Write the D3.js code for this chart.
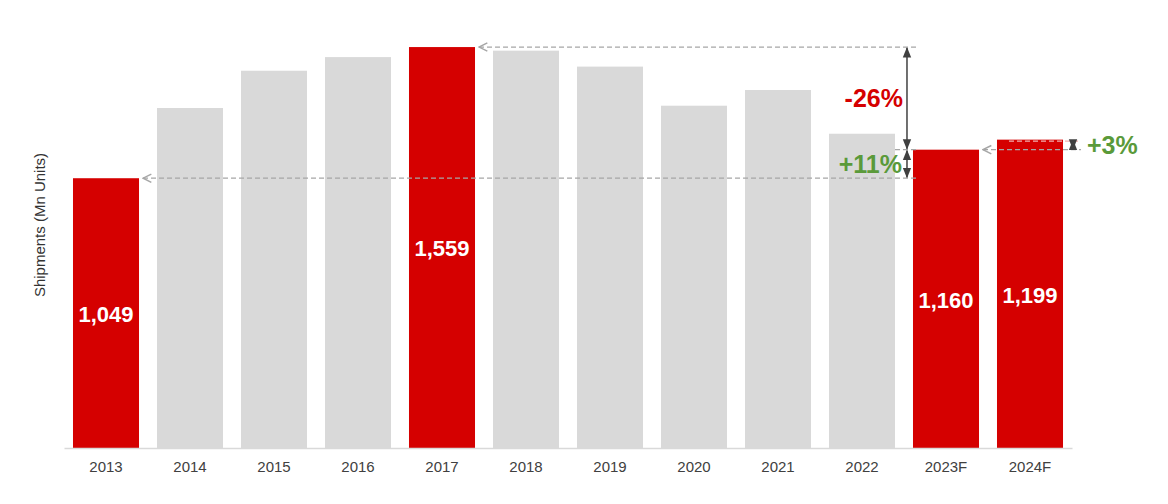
<!DOCTYPE html>
<html>
<head>
<meta charset="utf-8">
<script src="https://cdn.jsdelivr.net/npm/d3@7"></script>
<style>
  body { margin: 0; background: #fff; }
  svg { font-family: "Liberation Sans", Arial, sans-serif; }
</style>
</head>
<body>
<div id="chart"></div>
<script>
"use strict";

// data
var years = ["2013", "2014", "2015", "2016", "2017", "2018", "2019", "2020", "2021", "2022", "2023F", "2024F"];
var shipments = [1049, 1322, 1467, 1520, 1559, 1545, 1483, 1331, 1392, 1222, 1160, 1199];
var highlighted = ["2013", "2017", "2023F", "2024F"];
var changeLabels = ["-26%", "+11%", "+3%"];

var width = 1168, height = 504;
var baseY = 448;

var svg = d3.select("#chart").append("svg")
    .attr("width", width)
    .attr("height", height);

var x = d3.scaleBand()
    .domain(years)
    .range([64, 1072])
    .paddingInner(0.214)
    .paddingOuter(0.107);

var y = d3.scaleLinear()
    .domain([0, 1742])
    .range([baseY, 0]);

var red = "#d50000", grey = "#d9d9d9", green = "#5a9a3a";

// arrow markers
var defs = svg.append("defs");
defs.append("marker")
    .attr("id", "chev")
    .attr("viewBox", "0 0 10 10")
    .attr("refX", 1).attr("refY", 5)
    .attr("markerWidth", 8).attr("markerHeight", 8)
    .attr("orient", "auto")
    .append("path")
    .attr("d", "M9,1 L1,5 L9,9")
    .attr("fill", "none")
    .attr("stroke", "#a6a6a6")
    .attr("stroke-width", 1.4);
defs.append("marker")
    .attr("id", "tri")
    .attr("viewBox", "0 0 10 10")
    .attr("refX", 9).attr("refY", 5)
    .attr("markerWidth", 7).attr("markerHeight", 7)
    .attr("orient", "auto-start-reverse")
    .append("path")
    .attr("d", "M0,1 L10,5 L0,9 Z")
    .attr("fill", "#404040");

// bars
svg.append("g").selectAll("rect")
    .data(years)
    .enter()
    .append("rect")
    .attr("x", function(d) { return x(d); })
    .attr("y", function(d, i) { return y(shipments[i]); })
    .attr("width", x.bandwidth())
    .attr("height", function(d, i) { return baseY - y(shipments[i]); })
    .attr("fill", function(d) { return highlighted.indexOf(d) >= 0 ? red : grey; });

// value labels on red bars
svg.append("g").selectAll("text")
    .data(years.filter(function(d) { return highlighted.indexOf(d) >= 0; }))
    .enter()
    .append("text")
    .attr("x", function(d) { return x(d) + x.bandwidth() / 2; })
    .attr("y", function(d) {
        var v = shipments[years.indexOf(d)];
        return (y(v) + baseY) / 2 + 3;
    })
    .attr("text-anchor", "middle")
    .attr("dominant-baseline", "middle")
    .attr("fill", "#fff")
    .attr("font-size", 22)
    .attr("font-weight", "bold")
    .text(function(d) { return d3.format(",")(shipments[years.indexOf(d)]); });

// x axis
var xAxis = svg.append("g")
    .attr("transform", "translate(0," + baseY + ")")
    .call(d3.axisBottom(x).tickSize(0).tickPadding(13).tickSizeOuter(0));
xAxis.select(".domain").attr("stroke", "#d9d9d9").attr("stroke-width", 1.5);
xAxis.selectAll("text")
    .attr("font-size", 15)
    .attr("fill", "#404040")
    .style("font-family", "'Liberation Sans', Arial, sans-serif");

// y title
svg.append("text")
    .attr("transform", "translate(45,225) rotate(-90)")
    .attr("text-anchor", "middle")
    .attr("font-size", 15)
    .attr("fill", "#333")
    .text("Shipments (Mn Units)");

// annotations
var v13 = shipments[0], v17 = shipments[4], v23 = shipments[10], v24 = shipments[11];
var xEnd13 = x("2013") + x.bandwidth();
var xEnd17 = x("2017") + x.bandwidth();
var xEnd23 = x("2023F") + x.bandwidth();
var ann = svg.append("g");
var vx = x("2023F") - 6;

function dashed(x1, y1, x2, y2, marker, color) {
    var l = ann.append("line")
        .attr("x1", x1).attr("y1", y1)
        .attr("x2", x2).attr("y2", y2)
        .attr("stroke", color || "#a6a6a6")
        .attr("stroke-width", 1.3)
        .attr("stroke-dasharray", "5,3");
    if (marker) l.attr("marker-start", "url(#chev)");
    return l;
}

dashed(xEnd17 + 4, y(v17), vx + 12, y(v17), true);
dashed(xEnd13 + 4, y(v13), vx + 10, y(v13), true);
dashed(vx - 12, y(v23), vx + 12, y(v23), false);
dashed(xEnd23 + 4, y(v23), x("2024F") + x.bandwidth() + 18, y(v23), true);
dashed(x("2024F") + 12, y(v24) + 1.5, x("2024F") + x.bandwidth() + 16, y(v24) + 1.5, false, "#f2b0b0");

function vArrow(xx, y1, y2) {
    ann.append("line")
        .attr("x1", xx).attr("y1", y1 + 1)
        .attr("x2", xx).attr("y2", y2 - 1)
        .attr("stroke", "#404040")
        .attr("stroke-width", 1.5)
        .attr("marker-start", "url(#tri)")
        .attr("marker-end", "url(#tri)");
}
vArrow(vx, y(v17), y(v23));
vArrow(vx, y(v23), y(v13));
vArrow(x("2024F") + x.bandwidth() + 10, y(v24), y(v23));

ann.append("text")
    .attr("x", vx - 4).attr("y", (y(v17) + y(v23)) / 2 + 9)
    .attr("text-anchor", "end")
    .attr("font-size", 25).attr("font-weight", "bold")
    .attr("fill", red)
    .text(changeLabels[0]);
ann.append("text")
    .attr("x", vx - 5).attr("y", (y(v23) + y(v13)) / 2 + 9)
    .attr("text-anchor", "end")
    .attr("font-size", 25).attr("font-weight", "bold")
    .attr("fill", green)
    .text(changeLabels[1]);
ann.append("text")
    .attr("x", x("2024F") + x.bandwidth() + 24).attr("y", (y(v24) + y(v23)) / 2 + 9)
    .attr("text-anchor", "start")
    .attr("font-size", 25).attr("font-weight", "bold")
    .attr("fill", green)
    .text(changeLabels[2]);
</script>
</body>
</html>
